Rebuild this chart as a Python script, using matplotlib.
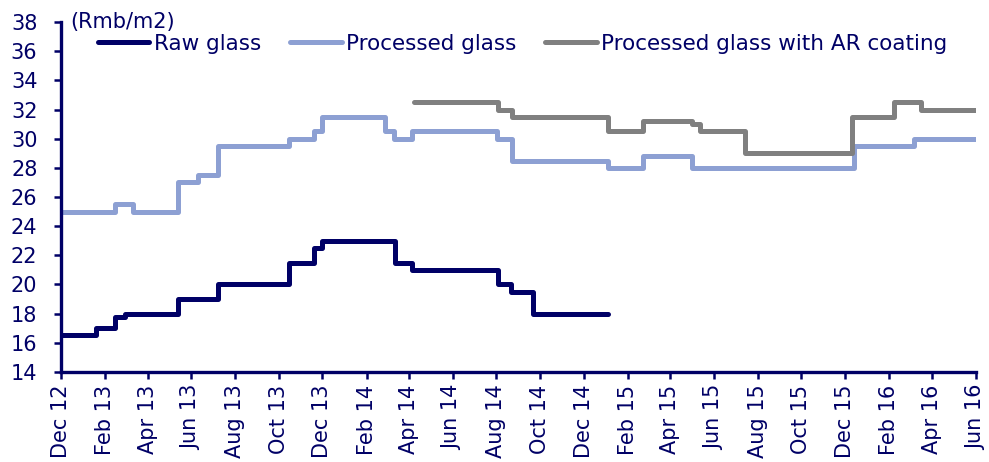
import pandas as pd
import matplotlib
matplotlib.use('Agg')
import matplotlib.pyplot as plt
import matplotlib.dates as mdates

navy = '#000066'
plt.rcParams['font.family'] = 'DejaVu Sans'
plt.rcParams['font.size'] = 15

# price change dates and levels (Rmb/m2), each level holds until the next date
raw_dates = ['2012-12-01', '2013-01-19', '2013-02-15', '2013-03-01', '2013-05-13',
             '2013-07-08', '2013-10-16', '2013-11-19', '2013-12-01', '2014-03-13',
             '2014-04-06', '2014-08-04', '2014-08-22', '2014-09-22', '2015-01-04']
raw_values = [16.5, 17, 17.8, 18, 19, 20, 21.5, 22.5, 23, 21.5, 21, 20, 19.5, 18, 18]

proc_dates = ['2012-12-01', '2013-02-15', '2013-03-11', '2013-05-13', '2013-06-10',
              '2013-07-08', '2013-10-16', '2013-11-19', '2013-12-01', '2014-02-27',
              '2014-03-11', '2014-04-05', '2014-08-02', '2014-08-23', '2015-01-04',
              '2015-02-22', '2015-05-01', '2015-12-14', '2016-03-06', '2016-06-01']
proc_values = [25, 25.5, 25, 27, 27.5, 29.5, 30, 30.5, 31.5, 30.5,
               30, 30.5, 30, 28.5, 28, 28.8, 28, 29.5, 30, 30]

ar_dates = ['2014-04-08', '2014-08-04', '2014-08-23', '2015-01-04', '2015-02-22',
            '2015-05-02', '2015-05-13', '2015-07-14', '2015-12-11', '2016-02-08',
            '2016-03-17', '2016-06-01']
ar_values = [32.5, 32, 31.5, 30.5, 31.25, 31, 30.5, 29, 31.5, 32.5, 32, 32]

fig = plt.figure(figsize=(9.89, 4.62), dpi=100)
ax = fig.add_axes([0.0617, 0.195, 0.925, 0.757])

ax.step(pd.to_datetime(raw_dates), raw_values, where='post', color=navy, lw=3.6,
        solid_capstyle='round', solid_joinstyle='round', label='Raw glass', zorder=3)
ax.step(pd.to_datetime(proc_dates), proc_values, where='post', color='#8DA0D3', lw=3.6,
        solid_capstyle='round', solid_joinstyle='round', label='Processed glass')
ax.step(pd.to_datetime(ar_dates), ar_values, where='post', color='#808080', lw=3.6,
        solid_capstyle='round', solid_joinstyle='round',
        label='Processed glass with AR coating')

ax.set_xlim(pd.Timestamp('2012-12-01'), pd.Timestamp('2016-06-01'))
ax.set_ylim(14, 38)
ax.set_yticks(range(14, 39, 2))
ax.xaxis.set_major_locator(mdates.MonthLocator(bymonth=[2, 4, 6, 8, 10, 12]))
ax.xaxis.set_major_formatter(mdates.DateFormatter('%b %y'))
plt.setp(ax.get_xticklabels(), rotation=90)

for s in ['top', 'right']:
    ax.spines[s].set_visible(False)
for s in ['left', 'bottom']:
    ax.spines[s].set_color(navy)
    ax.spines[s].set_linewidth(2.4)
ax.tick_params(colors=navy, labelcolor=navy, width=1.8, length=5, direction='out')
ax.tick_params(axis='y', pad=12)
ax.tick_params(axis='x', pad=4)

ax.text(0.01, 1.0, '(Rmb/m2)', transform=ax.transAxes, color=navy,
        ha='left', va='center')

leg = ax.legend(ncol=3, frameon=False, loc='center left', bbox_to_anchor=(0.04, 0.938),
                handlelength=2.4, handletextpad=0.2, columnspacing=1.35,
                borderaxespad=0, borderpad=0, fontsize=15.5)
for t in leg.get_texts():
    t.set_color(navy)

fig.savefig('out.png', dpi=100)
